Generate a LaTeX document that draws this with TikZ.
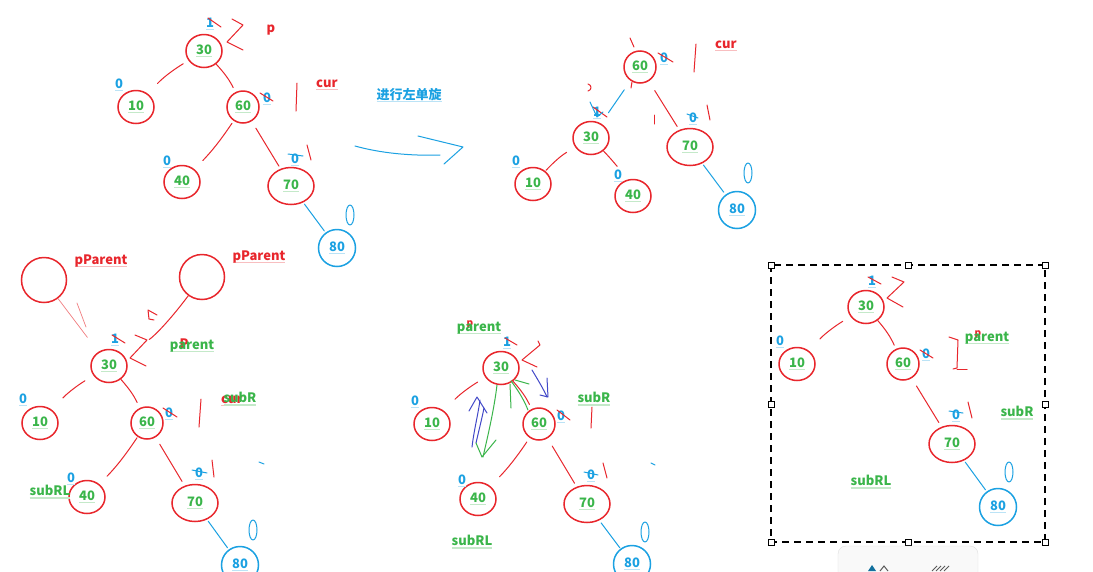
\documentclass[tikz,border=0pt]{standalone}
\usepackage{fontspec}
\setmainfont{Noto Sans CJK SC}
\usetikzlibrary{shapes.geometric,calc}
\definecolor{rd}{HTML}{E8262C}
\definecolor{gr}{HTML}{3AB54A}
\definecolor{bl}{HTML}{1BA1E2}
\definecolor{pu}{HTML}{4148C8}
\newcommand\txt{\fontsize{13}{15}\selectfont\bfseries}
\newcommand\ulx[2]{{\setbox0=\hbox{#2}\rlap{\color{#1}\rule[-2.8pt]{\wd0}{1.3pt}}\box0}}
\newcommand\ulG[1]{\ulx{gr!30}{#1}}
\newcommand\ulB[1]{\ulx{bl!30}{#1}}
\newcommand\ulR[1]{\ulx{rd!30}{#1}}
\tikzset{
  tn/.style={ellipse, draw=rd, line width=1.5pt, minimum width=36pt, minimum height=33pt, inner sep=0pt, text=gr, font=\txt},
  tnw/.style={tn, minimum width=46pt, minimum height=37pt},
  tns/.style={tn, minimum width=32pt, minimum height=32pt},
  tnb/.style={tn, draw=bl, text=bl, minimum width=37pt, minimum height=37pt},
  big/.style={circle, draw=rd, line width=1.5pt, minimum size=45pt, inner sep=0pt},
  bf/.style={text=bl, font=\txt, inner sep=0pt},
  lr/.style={text=rd, font=\txt, inner sep=0pt},
  lg/.style={text=gr, font=\txt, inner sep=0pt},
  lb/.style={text=bl, font=\txt, inner sep=0pt},
  ed/.style={draw=rd, line width=1pt, line cap=round, line join=round},
  edb/.style={draw=bl, line width=1pt, line cap=round, line join=round},
  ink/.style={draw=rd, line width=1pt, line cap=round, line join=round},
  inkl/.style={draw=rd!60, line width=0.7pt, line cap=round},
  inkb/.style={draw=bl, line width=1pt, line cap=round, line join=round},
  inkp/.style={draw=pu, line width=1pt, line cap=round, line join=round},
  inkg/.style={draw=gr, line width=1pt, line cap=round, line join=round},
  handle/.style={draw=black, fill=white, line width=0.8pt, minimum size=6pt, inner sep=0pt, rectangle},
}
\begin{document}
\begin{tikzpicture}[x=1pt,y=-1pt]
\fill[white] (0,0) rectangle (1093,571);
\useasboundingbox (0,0) rectangle (1093,571);

% ================= Tree 1 =================
\node[tn] (a30) at (204,51) {\ulG{30}};
\node[tn] (a10) at (136,107) {\ulG{10}};
\node[tns] (a60) at (243,107) {\ulG{60}};
\node[tn] (a40) at (182,182) {\ulG{40}};
\node[tnw] (a70) at (291,186) {\ulG{70}};
\node[tnb] (a80) at (337,248) {\ulB{80}};
\node[bf] (a30b) at (210,24) {\ulB{1}};
\node[bf] (a10b) at (119,85) {\ulB{0}};
\node[bf] (a60b) at (267,99) {\ulB{0}};
\node[bf] (a40b) at (167,162) {\ulB{0}};
\node[bf] (a70b) at (295,160) {\ulB{0}};
\node[lr] (ap) at (271,30) {p};
\node[lr] (acur) at (327,85) {\ulR{cur}};
\node[lb] (atxt) at (409,95) {\ulB{进行左单旋}};
\draw[ed, shorten <=6pt, shorten >=14pt] (a30) to[bend right=8] (a10);
\draw[ed, shorten <=0pt, shorten >=5pt] (a30) to[bend left=8] (a60);
\draw[ed, shorten <=3pt, shorten >=12pt] (a60) to[bend left=5] (a40);
\draw[ed, shorten <=8pt, shorten >=3pt] (a60) -- (a70);
\draw[edb, shorten <=2pt, shorten >=2pt] (a70) -- (a80);
\draw[ink] (208,18) -- (221,27);
\draw[ink] (232,19) -- (243,25) -- (227,42) -- (243,50);
\draw[ink] (297,83) -- (296,111);
\draw[ink] (260,93) -- (273,101);
\draw[ink] (307,145) -- (311,160);
\draw[inkb] (288,154) -- (303,156);
\draw[inkb] (350,215) ellipse (4 and 10);
\draw[inkb] (355,146) .. controls (380,153) and (410,156) .. (440,155);
\draw[inkb] (418,136) -- (463,147) -- (444,164);

% ================= Tree 2 =================
\node[tns] (b60) at (640,67) {\ulG{60}};
\node[tn] (b30) at (591,138) {\ulG{30}};
\node[tnw] (b70) at (690,147) {\ulG{70}};
\node[tn] (b10) at (533,184) {\ulG{10}};
\node[tn] (b40) at (633,196) {\ulG{40}};
\node[tnb] (b80) at (737,210) {\ulB{80}};
\node[bf] (b60b) at (664,59) {\ulB{0}};
\node[bf] (b30b) at (597,113) {\ulB{1}};
\node[bf] (b70b) at (693,119) {\ulB{0}};
\node[bf] (b10b) at (516,162) {\ulB{0}};
\node[bf] (b40b) at (618,176) {\ulB{0}};
\node[lr] (bcur) at (726,46) {\ulR{cur}};
\draw[edb, shorten <=11pt, shorten >=13pt] (b60) -- (b30);
\draw[ed, shorten <=11pt, shorten >=4pt] (b60) -- (b70);
\draw[ed, shorten <=10pt, shorten >=1pt] (b30) to[bend right=8] (b10);
\draw[ed, shorten <=0pt, shorten >=16pt] (b30) to[bend left=8] (b40);
\draw[edb, shorten <=2pt, shorten >=3pt] (b70) -- (b80);
\draw[ink] (658,53) -- (673,62);
\draw[ink] (696,44) -- (694,72);
\draw[ink] (630,38) -- (634,47);
\draw[ink] (588,84) .. controls (592,85) and (592,90) .. (588,91);
\draw[ink] (632,82) -- (631,88);
\draw[ink] (593,107) -- (607,117);
\draw[inkb] (590,102) -- (597,117) -- (603,112);
\draw[ink] (654,115) -- (654,124);
\draw[inkb] (687,114) -- (698,118);
\draw[ink] (707,105) -- (710,120);
\draw[inkb] (748,173) ellipse (4 and 10);

% ================= Tree 3 =================
\node[big] (cA) at (44,280) {};
\node[big] (cB) at (202,277) {};
\node[lr] (cAl) at (101,261) {\ulR{pParent}};
\node[lr] (cBl) at (259,257) {\ulR{pParent}};
\node[tn] (c30) at (109,366) {\ulG{30}};
\node[tn] (c10) at (40,423) {\ulG{10}};
\node[tns] (c60) at (147,423) {\ulG{60}};
\node[tn] (c40) at (87,497) {\ulG{40}};
\node[tnw] (c70) at (195,503) {\ulG{70}};
\node[tnb] (c80) at (240,565) {\ulB{80}};
\node[bf] (c30b) at (115,340) {\ulB{1}};
\node[bf] (c10b) at (23,400) {\ulB{0}};
\node[bf] (c60b) at (169,414) {\ulB{0}};
\node[bf] (c40b) at (71,479) {\ulB{0}};
\node[bf] (c70b) at (199,474) {\ulB{0}};
\node[lr] (cP) at (184,344) {P};
\node[lg] (cpar) at (192,346) {\ulG{parent}};
\node[lr] (ccur) at (232,401) {\ulR{cur}};
\node[lg] (csubR) at (240,399) {\ulG{subR}};
\node[lg] (csubRL) at (50,492) {\ulG{subRL}};
\draw[inkl, shorten >=18pt] (cA) -- (c30);
\draw[inkl] (77,303) -- (86,327);
\draw[ed, shorten >=30pt] (cB) to[bend left=10] (c30);
\draw[ink] (157,315) -- (148,310) -- (149,319) -- (154,320);
\draw[ed, shorten <=10pt, shorten >=16pt] (c30) to[bend right=8] (c10);
\draw[ed, shorten <=0pt, shorten >=6pt] (c30) to[bend left=8] (c60);
\draw[ed, shorten <=1pt, shorten >=11pt] (c60) to[bend left=5] (c40);
\draw[ed, shorten <=8pt, shorten >=5pt] (c60) -- (c70);
\draw[edb, shorten <=2pt, shorten >=2pt] (c70) -- (c80);
\draw[ink] (112,335) -- (125,343);
\draw[ink] (135,335) -- (147,340) -- (130,358) -- (146,366);
\draw[ink] (163,408) -- (177,417);
\draw[ink] (201,399) -- (199,427);
\draw[inkb] (192,470) -- (207,473);
\draw[ink] (212,460) -- (214,477);
\draw[inkb] (259,462) -- (264,464);
\draw[inkb] (253,530) ellipse (4 and 10);

% ================= Tree 4 =================
\node[tn] (d30) at (501,368) {\ulG{30}};
\node[tn] (d10) at (432,424) {\ulG{10}};
\node[tns] (d60) at (539,424) {\ulG{60}};
\node[tn] (d40) at (478,499) {\ulG{40}};
\node[tnw] (d70) at (587,504) {\ulG{70}};
\node[tnb] (d80) at (632,564) {\ulB{80}};
\node[bf] (d30b) at (507,343) {\ulB{1}};
\node[bf] (d10b) at (415,402) {\ulB{0}};
\node[bf] (d60b) at (561,417) {\ulB{0}};
\node[bf] (d40b) at (462,481) {\ulB{0}};
\node[bf] (d70b) at (591,476) {\ulB{0}};
\node[lr] (dP) at (470,325) {\fontsize{10}{12}\selectfont p};
\node[lg] (dpar) at (479,328) {\ulG{parent}};
\node[lg] (dsubR) at (594,399) {\ulG{subR}};
\node[lg] (dsubRL) at (472,542) {\ulG{subRL}};
\draw[ed, shorten <=9pt, shorten >=16pt] (d30) to[bend right=8] (d10);
\draw[ed, shorten <=0pt, shorten >=5pt] (d30) to[bend left=8] (d60);
\draw[ed, shorten <=5pt, shorten >=13pt] (d60) to[bend left=5] (d40);
\draw[ed, shorten <=9pt, shorten >=4pt] (d60) -- (d70);
\draw[edb, shorten <=3pt, shorten >=1pt] (d70) -- (d80);
\draw[inkp] (472,447) .. controls (474,430) and (478,415) .. (480,400);
\draw[inkp] (476,443) .. controls (479,430) and (482,418) .. (484,408);
\draw[inkp] (469,411) -- (477,397) -- (487,413);
\draw[inkg] (497,385) .. controls (494,410) and (488,435) .. (483,457);
\draw[inkg] (476,443) -- (482,457) -- (496,440);
\draw[inkg] (510,384) -- (511,408);
\draw[inkg] (511,381) .. controls (518,390) and (524,400) .. (528,410);
\draw[inkg] (515,380) -- (529,384);
\draw[inkp] (532,370) .. controls (538,380) and (544,390) .. (547,397);
\draw[inkp] (540,395) -- (548,397) -- (547,378);
\draw[ink] (505,338) -- (517,345);
\draw[ink] (538,341) -- (540,345) -- (522,360) -- (537,367);
\draw[ink] (557,410) -- (570,420);
\draw[ink] (592,407) -- (591,428);
\draw[inkb] (584,472) -- (598,475);
\draw[ink] (603,463) -- (607,478);
\draw[inkb] (651,463) -- (655,465);
\draw[inkb] (645,532) ellipse (4 and 10);

% ================= Tree 5 (selected) =================
\draw[line width=1.6pt, dash pattern=on 7pt off 5pt] (771,265) rectangle (1045,542);
\node[handle] (h1) at (771,265) {};
\node[handle] (h2) at (908,265) {};
\node[handle] (h3) at (1045,265) {};
\node[handle] (h4) at (771,404) {};
\node[handle] (h5) at (1045,404) {};
\node[handle] (h6) at (771,542) {};
\node[handle] (h7) at (908,542) {};
\node[handle] (h8) at (1045,542) {};
\node[tn] (e30) at (866,307) {\ulG{30}};
\node[tn] (e10) at (797,364) {\ulG{10}};
\node[tns] (e60) at (903,364) {\ulG{60}};
\node[tnw] (e70) at (952,444) {\ulG{70}};
\node[tnb] (e80) at (998,507) {\ulB{80}};
\node[bf] (e30b) at (872,282) {\ulB{1}};
\node[bf] (e10b) at (780,342) {\ulB{0}};
\node[bf] (e60b) at (926,355) {\ulB{0}};
\node[bf] (e70b) at (956,416) {\ulB{0}};
\node[lr] (eP) at (978,335) {\fontsize{10}{12}\selectfont p};
\node[lg] (epar) at (987,338) {\ulG{parent}};
\node[lg] (esubR) at (1017,413) {\ulG{subR}};
\node[lg] (esubRL) at (871,482) {\ulG{subRL}};
\draw[ed, shorten <=9pt, shorten >=16pt] (e30) to[bend right=8] (e10);
\draw[ed, shorten <=0pt, shorten >=4pt] (e30) to[bend left=8] (e60);
\draw[ed, shorten <=9pt, shorten >=5pt] (e60) -- (e70);
\draw[edb, shorten <=2pt, shorten >=2pt] (e70) -- (e80);
\draw[ink] (868,277) -- (881,284);
\draw[ink] (892,277) -- (904,282) -- (887,298) -- (903,307);
\draw[ink] (920,350) -- (933,358);
\draw[ink] (949,337) -- (958,340) -- (957,368) -- (953,369);
\draw[ink] (957,369) -- (967,369);
\draw[inkb] (949,411) -- (963,413);
\draw[ink] (968,402) -- (972,418);
\draw[inkb] (1009,472) ellipse (4 and 10);

% toolbar
\draw[fill=gray!5, draw=gray!25, rounded corners=8pt] (838,546) rectangle (978,590);
\fill[bl!70!black] (868,571) -- (872,565) -- (876,571) -- cycle;
\draw[gray!70!black, line width=1pt] (880,571) -- (884,566) -- (888,571);
\foreach \i in {0,1,2,3}{\draw[gray!70!black, line width=1pt] (932+4*\i,571) -- (937+4*\i,566);}
\end{tikzpicture}
\end{document}
